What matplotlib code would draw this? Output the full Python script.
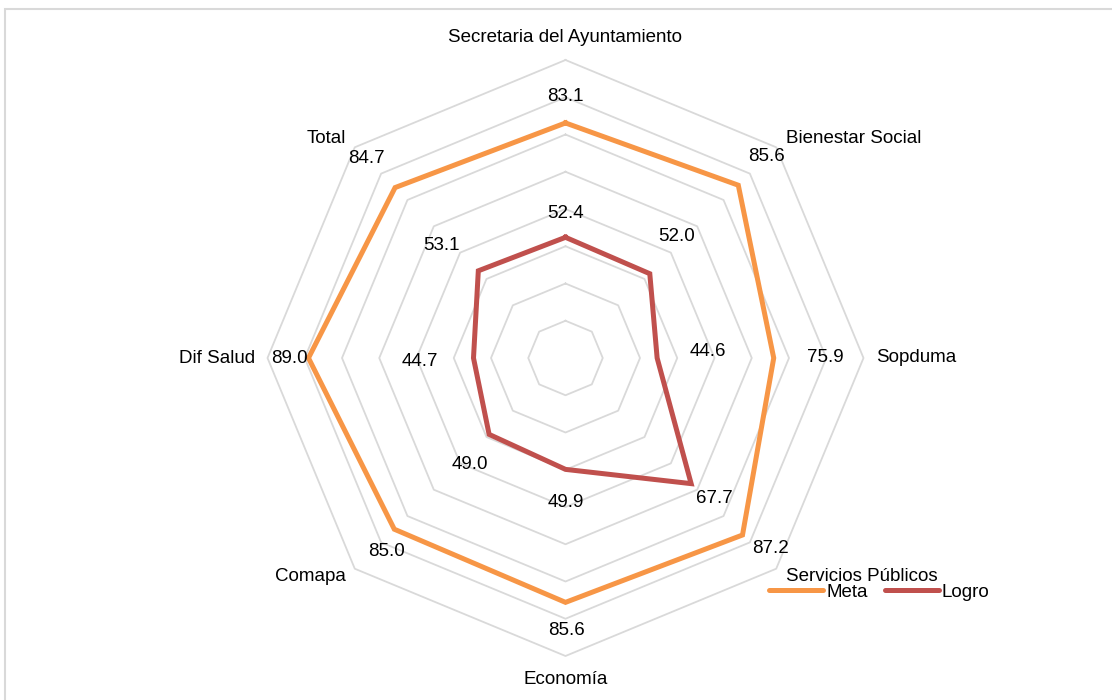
import numpy as np
import matplotlib
matplotlib.use("Agg")
import matplotlib.pyplot as plt
from matplotlib.patches import Rectangle

plt.rcParams['font.family'] = ['Liberation Sans', 'DejaVu Sans']

# Daten
categories = ['Secretaria del Ayuntamiento', 'Bienestar Social', 'Sopduma',
              'Servicios Públicos', 'Economía', 'Comapa', 'Dif Salud', 'Total']
meta = [83.1, 85.6, 75.9, 87.2, 85.6, 85.0, 89.0, 84.7]
logro = [52.4, 52.0, 44.6, 67.7, 49.9, 49.0, 44.7, 53.1]
ring_levels = [30, 40, 50, 60, 70, 80, 90, 100]
r_min, r_max = 20, 100

# Stil / Positionen (Pixel-Offsets, y nach oben)
c_meta = '#F79646'
c_logro = '#C0504D'
c_grid = '#D9D9D9'
meta_off = [(0, 26), (28, 29), (52, 1), (28, -13), (1, -28), (-8, -22), (-19, 0), (-29, 29)]
logro_off = [(0, 24), (27, 37), (51, 6), (23, -15), (0, -33), (-19, -30), (-54, -4), (-37, 25)]
cat_off = [(0, 23, 'center'), (10, 9, 'left'), (13, 1, 'left'), (10, -8, 'left'),
           (0, -24, 'center'), (-9, -8, 'right'), (-12, 0, 'right'), (-9, 9, 'right')]

px = 72 / 100  # Pixel -> Punkte
fs = 13.5

fig = plt.figure(figsize=(11.12, 7.0), dpi=100)
fig.patches.append(Rectangle((5 / 1112, -0.1), 1.2, (700 - 9) / 700 + 0.1,
                             transform=fig.transFigure, fill=False,
                             edgecolor=c_grid, linewidth=1.5))

cx, cy, R = 565.5, 700 - 358, 298
ax = fig.add_axes([(cx - R) / 1112, (cy - R) / 700, 2 * R / 1112, 2 * R / 700],
                  projection='polar')
ax.set_theta_zero_location('N')
ax.set_theta_direction(-1)
ax.set_ylim(r_min, r_max)
ax.grid(False)
ax.set_xticks([])
ax.set_yticks([])
ax.spines['polar'].set_visible(False)
ax.patch.set_alpha(0)

n = len(categories)
angles = np.linspace(0, 2 * np.pi, n, endpoint=False)
ang_closed = np.append(angles, angles[0])

for lv in ring_levels:
    ax.plot(ang_closed, [lv] * (n + 1), color=c_grid, lw=1.3, zorder=1, clip_on=False)

ax.plot(ang_closed, meta + meta[:1], color=c_meta, lw=3.6, solid_joinstyle='miter',
        zorder=3, clip_on=False, label='Meta')
ax.plot(ang_closed, logro + logro[:1], color=c_logro, lw=3.6, solid_joinstyle='miter',
        zorder=4, clip_on=False, label='Logro')

for i in range(n):
    ax.annotate(f'{meta[i]:.1f}', (angles[i], meta[i]),
                xytext=(meta_off[i][0] * px, meta_off[i][1] * px),
                textcoords='offset points', ha='center', va='center', fontsize=fs)
    ax.annotate(f'{logro[i]:.1f}', (angles[i], logro[i]),
                xytext=(logro_off[i][0] * px, logro_off[i][1] * px),
                textcoords='offset points', ha='center', va='center', fontsize=fs)
    dx, dy, ha = cat_off[i]
    ax.annotate(categories[i], (angles[i], r_max), xytext=(dx * px, dy * px),
                textcoords='offset points', ha=ha, va='center', fontsize=fs,
                annotation_clip=False)

leg = fig.legend(loc='center left', bbox_to_anchor=(769 / 1112, 1 - 592 / 700),
                 ncol=2, frameon=False, fontsize=fs, handlelength=2.9,
                 handletextpad=0.15, columnspacing=0.9, borderpad=0,
                 borderaxespad=0)
for h in leg.get_lines():
    h.set_solid_capstyle('round')
    h.set_linewidth(3.6)

fig.savefig('out.png', dpi=100)
